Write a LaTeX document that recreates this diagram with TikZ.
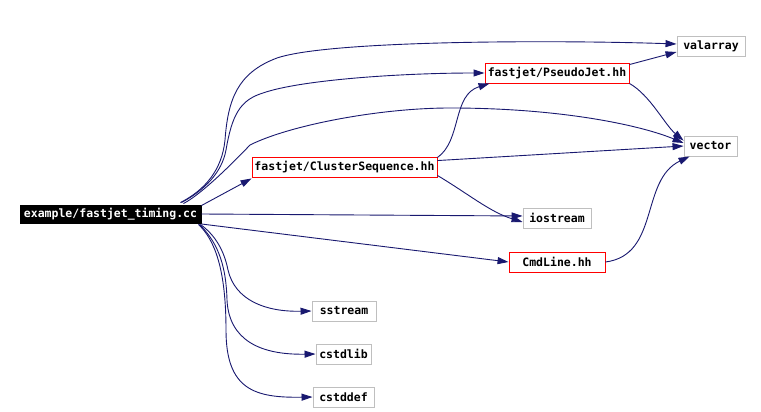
\documentclass[tikz,border=0pt]{standalone}
\usepackage{fontspec}
\setmonofont{DejaVu Sans Mono}
\usetikzlibrary{arrows.meta}
\definecolor{edgeblue}{HTML}{191970}
\definecolor{sysgray}{HTML}{BFBFBF}
\begin{document}
\begin{tikzpicture}[x=1pt,y=-1pt,
  box/.style={draw, rectangle, inner sep=0pt, line width=0.9pt, minimum height=20pt,
    font=\ttfamily\bfseries\fontsize{11.5}{12}\selectfont, fill=white},
  proj/.style={box, draw=red},
  sys/.style={box, draw=sysgray},
  root/.style={box, draw=black, fill=black, text=white, minimum height=18pt},
  dep/.style={draw=edgeblue, line width=0.9pt, -{Triangle[length=11pt,width=7pt]}, fill=none},
]
\useasboundingbox (0,0) rectangle (761,412);
\fill[white] (0,0) rectangle (761,412);

\node[root, minimum width=181pt] (main) at (110.5,214) {example/fastjet\_timing.cc};
\node[proj, minimum width=185pt] (cs) at (344.5,167) {fastjet/ClusterSequence.hh};
\node[proj, minimum width=144pt] (pj) at (557,73) {fastjet/PseudoJet.hh};
\node[sys, minimum width=68pt] (val) at (711,46) {valarray};
\node[sys, minimum width=53pt] (vec) at (710.5,146) {vector};
\node[sys, minimum width=68pt] (ios) at (557,218) {iostream};
\node[proj, minimum width=96pt] (cmd) at (557,262) {CmdLine.hh};
\node[sys, minimum width=64pt] (sst) at (344,311) {sstream};
\node[sys, minimum width=55pt] (csl) at (343.5,354) {cstdlib};
\node[sys, minimum width=61pt] (csd) at (343.5,397) {cstddef};

% from main
\draw[dep] ([xshift=-21pt,yshift=2pt]main.north east) .. controls (205,190) and (222,170) .. (225,140)
  .. controls (228,100) and (237,73) .. (277,58)
  .. controls (330,40) and (560,40) .. ([yshift=2pt]val.west);
\draw[dep] ([xshift=-20pt,yshift=2pt]main.north east) .. controls (205,190) and (222,172) .. (226,150)
  .. controls (232,115) and (240,100) .. (263,93)
  .. controls (300,80) and (400,73) .. (pj.west);
\draw[dep] ([xshift=-18pt,yshift=1pt]main.north east) .. controls (200,195) and (228,168) .. (250,145)
  .. controls (290,125) and (380,108) .. (450,108)
  .. controls (560,108) and (640,125) .. ([yshift=3pt]vec.west);
\draw[dep] ([yshift=-1pt]main.north east) -- ([yshift=-1pt]cs.south west);
\draw[dep] (main.east) -- ([yshift=2pt]ios.west);
\draw[dep] ([yshift=-10pt]main.east) -- (cmd.west);
\draw[dep] ([xshift=-1pt,yshift=-1pt]main.south east) .. controls (215,235) and (224,250) .. (228,270)
  .. controls (235,300) and (265,312) .. (sst.west);
\draw[dep] ([xshift=-2pt,yshift=-1pt]main.south east) .. controls (215,240) and (226,260) .. (227,300)
  .. controls (229,340) and (260,355) .. (csl.west);
\draw[dep] ([xshift=-3pt,yshift=-1pt]main.south east) .. controls (215,240) and (226,270) .. (226,330)
  .. controls (226,390) and (255,398) .. (csd.west);

% from ClusterSequence
\draw[dep] ([yshift=-1pt]cs.north east) .. controls (462,140) and (452,95) .. ([xshift=5pt]pj.south west);
\draw[dep] ([yshift=-4pt]cs.north east) -- (vec.west);
\draw[dep] ([yshift=2pt]cs.south east) .. controls (470,195) and (490,212) .. ([yshift=-4pt]ios.west);

% from PseudoJet
\draw[dep] ([yshift=-2pt]pj.north east) -- ([yshift=-6pt]val.west);
\draw[dep] (pj.south east) .. controls (650,95) and (665,125) .. ([yshift=-5pt]vec.north west);

% from CmdLine
\draw[dep] (cmd.east) .. controls (660,255) and (640,180) .. ([xshift=6pt]vec.south west);
\end{tikzpicture}
\end{document}
